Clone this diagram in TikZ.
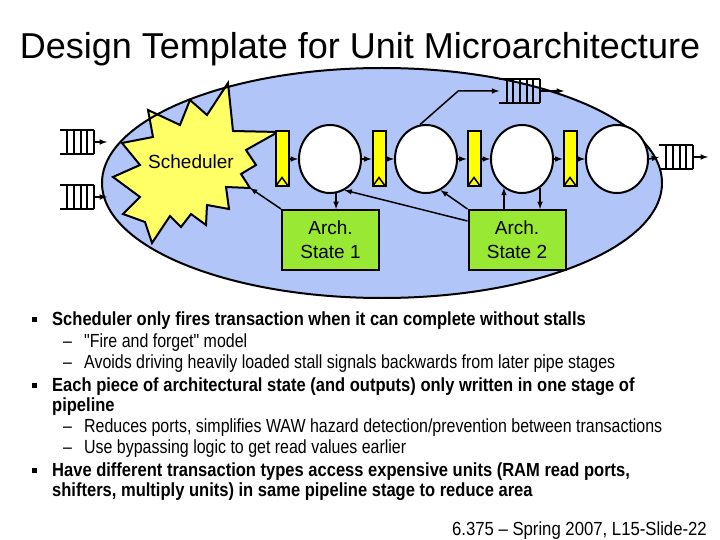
\documentclass[tikz,border=0pt]{standalone}
\usepackage{fontspec}
\setmainfont{Liberation Sans}
\newfontfamily\bodyfont[FakeStretch=0.87]{Liberation Sans}
\newfontfamily\subfont[FakeStretch=0.84]{Liberation Sans}
\newfontfamily\footfont[FakeStretch=0.88]{Liberation Sans}
\usetikzlibrary{shapes.geometric,calc}

\definecolor{unitblue}{RGB}{178,197,248}
\definecolor{schedyellow}{RGB}{255,255,102}
\definecolor{regyellow}{RGB}{255,255,0}
\definecolor{stategreen}{RGB}{153,232,51}

\tikzset{
  stage/.style={draw, ellipse, fill=white, line width=2, minimum width=62, minimum height=68, inner sep=0},
  pipereg/.style={draw, fill=regyellow, line width=2, minimum width=13, minimum height=55, inner sep=0,
    path picture={\draw[line width=1.5] (path picture bounding box.south west)
      -- ([yshift=9]path picture bounding box.south) -- (path picture bounding box.south east);}},
  archstate/.style={draw, fill=stategreen, line width=2, minimum width=97, minimum height=60,
    align=center, font=\fontsize{19}{24}\selectfont},
  wire/.style={line width=1.5, -latex},
  bulletsq/.style={fill, minimum size=5, inner sep=0},
  point/.style={anchor=base west, inner sep=0, align=left, font=\bodyfont\bfseries\fontsize{19}{20}\selectfont},
  subpoint/.style={anchor=base west, inner sep=0, font=\subfont\fontsize{19}{21}\selectfont},
  pics/fifo/.style={code={
    \draw[line width=2.5] (0,-12) -- ({-#1*6.8},-12) (0,12) -- ({-#1*6.8},12);
    \foreach \k in {1,...,#1} \draw[line width=2] ({-(\k-1)*6.7},-12) -- ({-(\k-1)*6.7},12);
    \coordinate (-out) at (0,0);
    \coordinate (-in) at ({-#1*6.8},0);
  }}
}

\begin{document}
\begin{tikzpicture}[x=1pt, y=-1pt]
    \useasboundingbox (0,0) rectangle (720,540);

    \node[anchor=base, font=\fontsize{36}{40}\selectfont] (title) at (360,59) {Design Template for Unit Microarchitecture};

    % the unit
    \fill[unitblue] (382,183) ellipse [x radius=280, y radius=115];

    \filldraw[fill=schedyellow, line width=2] (228,83) -- (233,131) -- (278,132) -- (246,150)
      -- (256,165) -- (241,174) -- (250,188) -- (226,187) -- (229,209) -- (207,205)
      -- (206,225) -- (191,214) -- (181,227) -- (170,216) -- (152,243) -- (145,222)
      -- (123,214) -- (140,197) -- (113,177) -- (140,165) -- (122,143) -- (153,137)
      -- (148,110) -- (180,125) -- (190,100) -- (207,115) -- cycle;
    \node[font=\fontsize{19}{24}\selectfont] (sched) at (191,162) {Scheduler};
    \coordinate (sched-tip) at (250,188);

    \draw[line width=2] (382,183) ellipse [x radius=280, y radius=115];

    % pipeline
    \node[pipereg] (r1) at (282,159) {};
    \node[stage] (c1) at (330,159) {};
    \node[pipereg] (r2) at (379,159) {};
    \node[stage] (c2) at (426,159) {};
    \node[pipereg] (r3) at (474,159) {};
    \node[stage] (c3) at (522,159) {};
    \node[pipereg] (r4) at (570,159) {};
    \node[stage] (c4) at (617,159) {};

    \node[archstate] (as1) at (330.5,240) {Arch.\\State 1};
    \node[archstate] (as2) at (517,240) {Arch.\\State 2};

    % queues
    \pic (qa) at (94,142) {fifo=5};
    \pic (qb) at (94,197) {fifo=5};
    \pic (qt) at (540,91) {fifo=6};
    \pic (qr) at (693,157) {fifo=5};
    \coordinate (qa-end) at (107,142);
    \coordinate (qb-end) at (107,197);
    \coordinate (qt-end) at (564,91);
    \coordinate (qr-end) at (708,157);

    \draw[wire] (qa-out) -- (qa-end);
    \draw[wire] (qb-out) -- (qb-end);
    \draw[wire] (r1) -- (c1);
    \draw[wire] (c1) -- (r2);
    \draw[wire] (r2) -- (c2);
    \draw[wire] (c2) -- (r3);
    \draw[wire] (r3) -- (c3);
    \draw[wire] (c3) -- (r4);
    \draw[wire] (r4) -- (c4);
    \draw[wire] (c4.east) -- (qr-in);
    \draw[wire] (qr-out) -- (qr-end);
    \draw[wire] (c2.100) -- ($(qt-in)+(-41,0)$) -- (qt-in);
    \draw[wire] (qt-out) -- (qt-end);

    \draw[wire] (c1.-80) -- (c1.-80 |- as1.north);
    \draw[wire] (as1.north west) -- (sched-tip);
    \draw[wire] ([yshift=-12]as2.north west) -- (c1.-65);
    \draw[wire] (as2.north west) -- (c2.-65);
    \draw[wire] (c3.-122 |- as2.north) -- (c3.-122);
    \draw[wire] (c3.-58) -- (c3.-58 |- as2.north);

    % text
    \node[bulletsq] (m1) at (34,319) {};
    \node[bulletsq] (m2) at (34,385) {};
    \node[bulletsq] (m3) at (34,470) {};

    \node[point] (b1) at (52,325)
      {Scheduler only fires transaction when it can complete without stalls};
    \node[subpoint] (d1) at (63,347) {–};
    \node[subpoint] (s1) at (84,347) {"Fire and forget" model};
    \node[subpoint] (d2) at (63,368) {–};
    \node[subpoint] (s2) at (84,368)
      {Avoids driving heavily loaded stall signals backwards from later pipe stages};

    % base of a two-line node is its last line
    \node[point] (b2) at (52,411)
      {Each piece of architectural state (and outputs) only written in one stage of\\pipeline};
    \node[subpoint] (d3) at (63,432) {–};
    \node[subpoint] (s3) at (84,432)
      {Reduces ports, simplifies WAW hazard detection/prevention between transactions};
    \node[subpoint] (d4) at (63,453) {–};
    \node[subpoint] (s4) at (84,453)
      {Use bypassing logic to get read values earlier};

    \node[point] (b3) at (52,496)
      {Have different transaction types access expensive units (RAM read ports,\\shifters, multiply units) in same pipeline stage to reduce area};

    \node[anchor=base east, inner sep=0, font=\footfont\fontsize{19}{20}\selectfont] (foot) at (707,535)
      {6.375 – Spring 2007, L15-Slide-22};
\end{tikzpicture}
\end{document}
